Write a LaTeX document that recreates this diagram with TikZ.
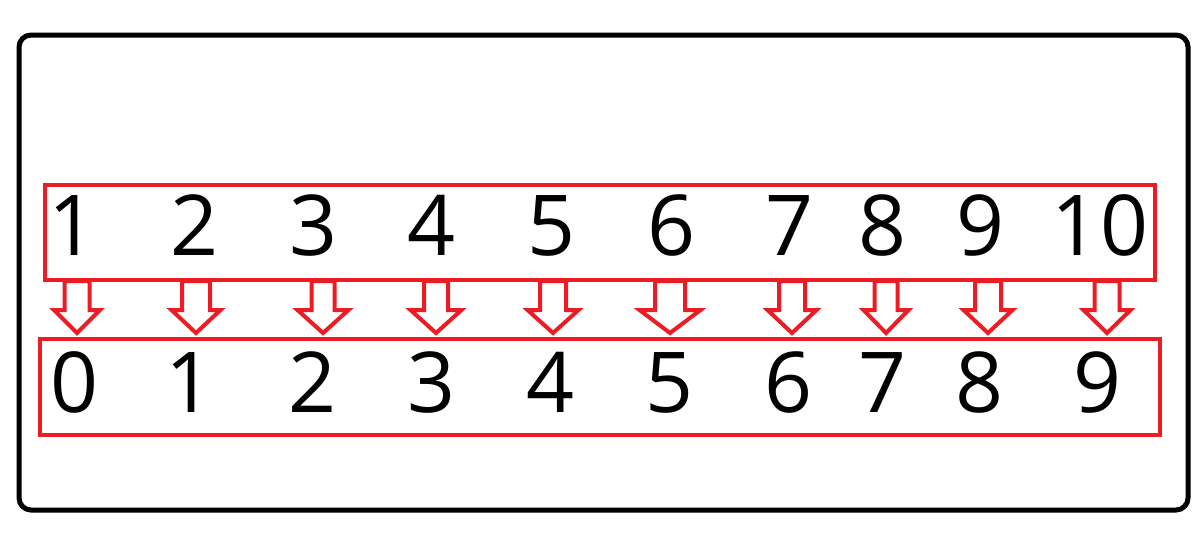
\documentclass[tikz,border=0pt]{standalone}
\usepackage{fontspec}
\setmainfont{Open Sans}
\definecolor{paintred}{RGB}{236,28,36}
\tikzset{
  outerbox/.style={draw=black, line width=5pt, rounded corners=12pt},
  redbox/.style={draw=paintred, line width=4pt, inner sep=0pt},
  digit/.style={anchor=base, inner sep=0pt, font=\fontsize{84}{90}\selectfont},
  blockarrow/.style={draw=paintred, line width=4pt, line join=miter, fill=white}
}
\begin{document}
\begin{tikzpicture}[x=1pt,y=-1pt]
\useasboundingbox (0,0) rectangle (1200,533);
\draw[outerbox] (19,35) rectangle (1188,510);
\node[redbox, minimum width=1110pt, minimum height=94.5pt] (topbox) at (600,232.25) {};
\node[redbox, minimum width=1120.5pt, minimum height=96pt] (botbox) at (599.75,386.5) {};
% top digits
\foreach \x/\t [count=\i] in {73/1,195/2,314/3,432/4,552/5,672/6,790/7,883/8,981/9,1100/10}
  \node[digit] (t\i) at (\x,255) {\t};
% bottom digits
\foreach \x/\t [count=\i] in {75/0,190/1,313/2,432/3,551/4,670/5,789/6,883/7,980/8,1098/9}
  \node[digit] (b\i) at (\x,412) {\t};
% block arrows
\foreach \c/\s/\h [count=\i] in {77/12.5/23,196/14/24.5,323/11.5/25.5,436/12/25.5,553/13/25.5,670/15/30.5,792/13/24.5,886/11.5/22.5,988/13/24.5,1107/12.5/23.5}
  \draw[blockarrow] (\c-\s,281) -- (\c-\s,310) -- (\c-\h,310) -- (\c,333)
     -- (\c+\h,310) -- (\c+\s,310) -- (\c+\s,281) -- cycle;
\end{tikzpicture}
\end{document}
